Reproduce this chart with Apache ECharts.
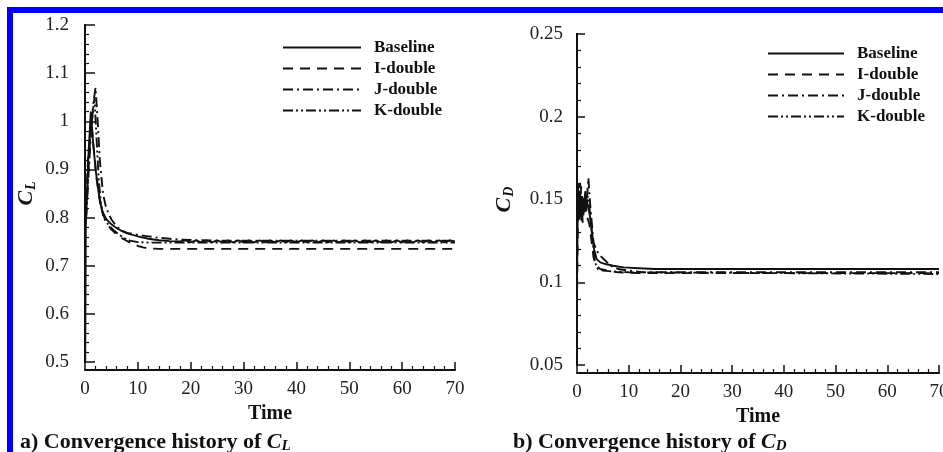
<!DOCTYPE html>
<html>
<head>
<meta charset="utf-8">
<title>Convergence history of CL and CD</title>
<script src="https://cdn.jsdelivr.net/npm/echarts@6/dist/echarts.min.js"></script>
<style>
  html, body { margin: 0; padding: 0; background: #fff; }
  #chart { width: 943px; height: 452px; }
</style>
</head>
<body>
<div id="chart"></div>
<script>
// Series names shared by both panels
const seriesNames = ['Baseline', 'I-double', 'J-double', 'K-double'];

// Axis ranges
const timeRange = [0, 70, 10];
const clRange = [0.5, 1.2, 0.1];
const cdRange = [0.05, 0.25, 0.05];

// Lift coefficient history [time, CL]
const clBaseline = [
  [0, 1.6], [0, 0.4], [0.15, 0.78], [0.6, 0.92], [1.1, 1.02], [1.5, 0.96], [2.0, 0.9],
  [2.6, 0.85], [3.2, 0.815], [4, 0.797], [5, 0.786], [6, 0.778], [7, 0.772], [8, 0.767],
  [10, 0.761], [12, 0.756], [14, 0.753], [16, 0.751], [18, 0.7505],
  [19, 0.7525], [20, 0.7485], [21, 0.7525], [22, 0.7485], [23, 0.7525], [24, 0.7485],
  [25, 0.7525], [26, 0.7485], [27, 0.7525], [28, 0.7485], [29, 0.7525], [30, 0.7485],
  [31, 0.7525], [32, 0.7485], [33, 0.7525], [34, 0.7485], [35, 0.7525], [36, 0.7485],
  [37, 0.7525], [38, 0.7485], [39, 0.7525], [40, 0.7485], [41, 0.7525], [42, 0.7485],
  [43, 0.7525], [44, 0.7485], [45, 0.7525], [46, 0.7485], [47, 0.7525], [48, 0.7485],
  [49, 0.7525], [50, 0.7485], [51, 0.7525], [52, 0.7485], [53, 0.7525], [54, 0.7485],
  [55, 0.7525], [56, 0.7485], [57, 0.7525], [58, 0.7485], [59, 0.7525], [60, 0.7485],
  [61, 0.7525], [62, 0.7485], [63, 0.7525], [64, 0.7485], [65, 0.7525], [66, 0.7485],
  [67, 0.7525], [68, 0.7485], [69, 0.7525], [70, 0.7505]
];
const clIDouble = [
  [0.1, 0.8], [0.6, 0.93], [1.2, 1.0], [1.6, 0.95], [2.2, 0.88], [3, 0.82], [4, 0.79],
  [5, 0.775], [6, 0.765], [7, 0.757], [8, 0.751], [9, 0.746], [10, 0.741], [11, 0.738],
  [12, 0.736], [14, 0.735], [70, 0.735]
];
const clJDouble = [
  [0.2, 0.8], [1.0, 0.95], [1.6, 1.04], [2.0, 1.07], [2.4, 1.0], [2.8, 0.92], [3.4, 0.85],
  [4, 0.82], [5, 0.796], [6, 0.781], [7, 0.773], [8, 0.768], [10, 0.764], [12, 0.761],
  [14, 0.758], [16, 0.756], [18, 0.754], [21, 0.753], [25, 0.752], [70, 0.752]
];
const clKDouble = [
  [0.2, 0.8], [1.0, 0.97], [1.8, 1.05], [2.2, 0.96], [2.6, 0.88], [3.0, 0.83], [3.5, 0.8],
  [4.5, 0.784], [5.5, 0.773], [6.5, 0.764], [7.5, 0.757], [8.5, 0.752], [10, 0.749],
  [12, 0.748], [70, 0.748]
];

// Drag coefficient history [time, CD]
const cdBaseline = [
  [0, 0.3], [0, 0.1], [0.2, 0.16], [0.4, 0.138], [0.6, 0.155], [0.8, 0.14], [1.0, 0.152],
  [1.3, 0.142], [1.6, 0.155], [2.0, 0.148], [2.5, 0.14], [2.9, 0.13], [3.3, 0.12],
  [3.8, 0.114], [4.5, 0.112], [5.5, 0.111], [7, 0.11], [9, 0.109], [12, 0.1085],
  [15, 0.108], [70, 0.108]
];
const cdIDouble = [
  [0, 0.3], [0, 0.09], [0.2, 0.15], [0.5, 0.138], [0.8, 0.158], [1.1, 0.136], [1.5, 0.15],
  [1.9, 0.14], [2.4, 0.135], [2.8, 0.125], [3.2, 0.115], [3.7, 0.11], [4.5, 0.108],
  [6, 0.107], [8, 0.106], [12, 0.1055], [70, 0.1055]
];
const cdJDouble = [
  [0.2, 0.145], [0.6, 0.16], [1.0, 0.14], [1.4, 0.152], [1.8, 0.145], [2.2, 0.163],
  [2.6, 0.145], [3.2, 0.124], [3.8, 0.119], [4.5, 0.116], [5.5, 0.113], [6.5, 0.11],
  [8, 0.108], [10, 0.107], [13, 0.106], [70, 0.106]
];
const cdKDouble = [
  [0.2, 0.14], [0.5, 0.155], [0.9, 0.137], [1.3, 0.15], [1.7, 0.142], [2.1, 0.152],
  [2.6, 0.14], [3.0, 0.125], [3.5, 0.112], [4, 0.108], [5, 0.107], [7, 0.1065],
  [10, 0.106], [70, 0.105]
];

const serif = '"Liberation Serif", "Times New Roman", serif';
const ink = '#111';
const dashes = {
  'Baseline': 'solid',
  'I-double': [10, 7],
  'J-double': [10, 4, 2, 4],
  'K-double': [10, 3, 2, 3, 2, 3]
};

function makeSeries(name, data, idx) {
  return {
    name: name,
    type: 'line',
    xAxisIndex: idx,
    yAxisIndex: idx,
    data: data,
    symbol: 'none',
    showSymbol: false,
    clip: true,
    lineStyle: { color: ink, width: 1.9, type: dashes[name] },
    itemStyle: { color: ink }
  };
}

function xAxisFor(gridIndex) {
  return {
    type: 'value', gridIndex: gridIndex,
    min: timeRange[0], max: timeRange[1], interval: timeRange[2],
    offset: 8,
    name: 'Time', nameLocation: 'middle', nameGap: 34,
    nameTextStyle: { fontFamily: serif, fontWeight: 'bold', fontSize: 20, color: ink },
    axisLine: { lineStyle: { color: ink, width: 2 } },
    axisTick: { inside: true, length: 8, lineStyle: { color: ink, width: 1.5 } },
    minorTick: { show: true, splitNumber: 5, length: 4, lineStyle: { color: ink, width: 1.2 } },
    axisLabel: { margin: 10, fontFamily: serif, fontSize: 19, color: '#222' },
    splitLine: { show: false }
  };
}

function yAxisFor(gridIndex, range, sub, gap, offset) {
  return {
    type: 'value', gridIndex: gridIndex,
    min: range[0], max: range[1], interval: range[2],
    offset: offset,
    name: '{c|C}{s|' + sub + '}', nameLocation: 'middle', nameRotate: 90, nameGap: gap,
    nameTextStyle: {
      rich: {
        c: { fontFamily: serif, fontStyle: 'italic', fontWeight: 'bold', fontSize: 22, color: ink },
        s: { fontFamily: serif, fontStyle: 'italic', fontWeight: 'bold', fontSize: 14, color: ink, padding: [9, 0, 0, 1] }
      }
    },
    axisLine: { lineStyle: { color: ink, width: 2 } },
    axisTick: { inside: true, length: offset, lineStyle: { color: ink, width: 1.5 } },
    minorTick: { show: true, splitNumber: 5, length: 4, lineStyle: { color: ink, width: 1.2 } },
    axisLabel: { margin: 6, fontFamily: serif, fontSize: 19, color: '#222' },
    splitLine: { show: false }
  };
}

const legendText = { fontFamily: serif, fontWeight: 'bold', fontSize: 17, color: ink, padding: [0, 0, 0, 8] };
// Legend keys show only the line pattern, no point marker
const legendItem = { opacity: 0 };

const chart = echarts.init(document.getElementById('chart'), null, { renderer: 'canvas' });
chart.setOption({
  animation: false,
  backgroundColor: '#fff',
  title: [
    {
      text: '{t|a) Convergence history of }{c|C}{s|L}',
      left: 20, top: 430, padding: 0,
      textStyle: {
        rich: {
          t: { fontFamily: serif, fontWeight: 'bold', fontSize: 22, color: ink },
          c: { fontFamily: serif, fontStyle: 'italic', fontWeight: 'bold', fontSize: 22, color: ink },
          s: { fontFamily: serif, fontStyle: 'italic', fontWeight: 'bold', fontSize: 15, color: ink, padding: [9, 0, 0, 0] }
        }
      }
    },
    {
      text: '{t|b) Convergence history of }{c|C}{s|D}',
      left: 513, top: 430, padding: 0,
      textStyle: {
        rich: {
          t: { fontFamily: serif, fontWeight: 'bold', fontSize: 22, color: ink },
          c: { fontFamily: serif, fontStyle: 'italic', fontWeight: 'bold', fontSize: 22, color: ink },
          s: { fontFamily: serif, fontStyle: 'italic', fontWeight: 'bold', fontSize: 15, color: ink, padding: [9, 0, 0, 0] }
        }
      }
    }
  ],
  legend: [
    {
      data: seriesNames, orient: 'vertical', left: 282, top: 39, padding: 0,
      itemWidth: 78, itemHeight: 14, itemGap: 4, selectedMode: false,
      itemStyle: legendItem,
      textStyle: legendText
    },
    {
      data: seriesNames, orient: 'vertical', left: 767, top: 45, padding: 0,
      itemWidth: 76, itemHeight: 14, itemGap: 4, selectedMode: false,
      itemStyle: legendItem,
      textStyle: legendText
    }
  ],
  grid: [
    { left: 85, top: 25, width: 370, height: 337, containLabel: false, outerBoundsMode: 'none' },
    { left: 577, top: 34, width: 362, height: 331, containLabel: false, outerBoundsMode: 'none' }
  ],
  xAxis: [xAxisFor(0), xAxisFor(1)],
  yAxis: [
    yAxisFor(0, clRange, 'L', 37, 10),
    yAxisFor(1, cdRange, 'D', 53, 8)
  ],
  series: [
    makeSeries('Baseline', clBaseline, 0),
    makeSeries('I-double', clIDouble, 0),
    makeSeries('J-double', clJDouble, 0),
    makeSeries('K-double', clKDouble, 0),
    makeSeries('Baseline', cdBaseline, 1),
    makeSeries('I-double', cdIDouble, 1),
    makeSeries('J-double', cdJDouble, 1),
    makeSeries('K-double', cdKDouble, 1)
  ],
  graphic: [
    { type: 'rect', shape: { x: 7, y: 7, width: 936, height: 6 }, style: { fill: '#0000ff' }, silent: true },
    { type: 'rect', shape: { x: 7, y: 7, width: 6, height: 445 }, style: { fill: '#0000ff' }, silent: true }
  ]
});
</script>
</body>
</html>
